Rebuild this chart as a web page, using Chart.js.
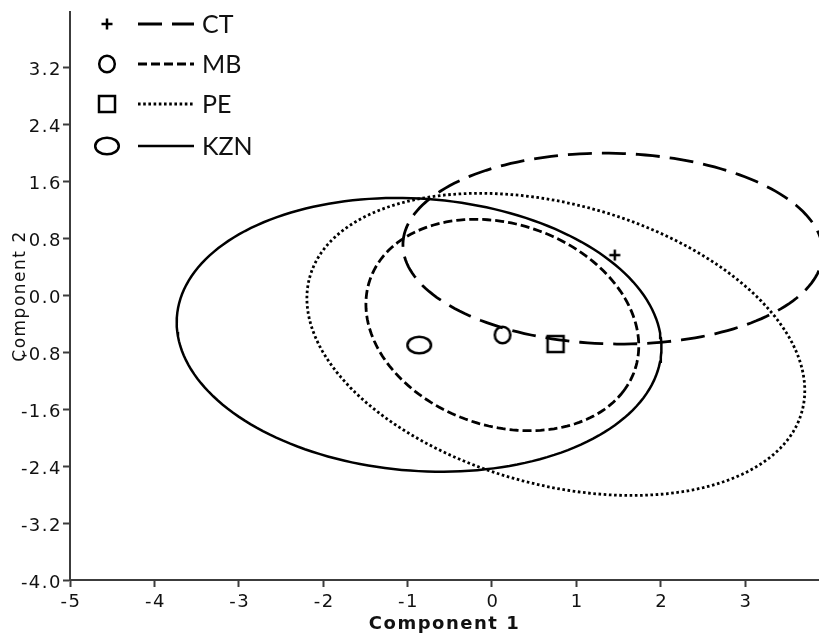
<!DOCTYPE html>
<html>
<head>
<meta charset="utf-8">
<script src="https://cdn.jsdelivr.net/npm/chart.js@4.4.1/dist/chart.umd.min.js"></script>
<style>
  html, body { margin: 0; padding: 0; background: #fff; }
  canvas { display: block; }
</style>
</head>
<body>
<canvas id="pcaChart" width="819" height="635"></canvas>
<script>
// groups and their centroids (marker positions)
const groups = ['CT', 'MB', 'PE', 'KZN'];
const centroidX = [1.457, 0.126, 0.755, -0.861];
const centroidY = [0.56, -0.561, -0.688, -0.702];

// confidence ellipses: centre, semi axes, rotation in degrees
const ellipseCX = [1.434, 0.124, 0.758, -0.863];
const ellipseCY = [0.651, -0.421, -0.693, -0.559];
const ellipseA = [2.489, 1.710, 3.073, 2.882];
const ellipseB = [1.338, 1.375, 1.939, 1.907];
const ellipseAngle = [-1.7, -33.2, -21.1, -6.2];

const xTicks = [-5, -4, -3, -2, -1, 0, 1, 2, 3];
const yTicks = [-4.0, -3.2, -2.4, -1.6, -0.8, 0.0, 0.8, 1.6, 2.4, 3.2];

// line styles per group
const lineDash = [[24, 10], [9, 4], [2.6, 2.6], []];
const lineWidth = [2.8, 2.8, 2.8, 2.5];

const axisColor = '#3c3c3c';
const textColor = '#111';
const fontFamily = '"DejaVu Sans", Verdana, sans-serif';
const tickFont = { family: fontFamily, size: 18 };

function ellipsePoints(i) {
    const th = ellipseAngle[i] * Math.PI / 180;
    const pts = [];
    for (let k = 0; k <= 360; k += 2) {
        const t = k * Math.PI / 180;
        const ex = ellipseA[i] * Math.cos(t);
        const ey = ellipseB[i] * Math.sin(t);
        pts.push({
            x: ellipseCX[i] + ex * Math.cos(th) - ey * Math.sin(th),
            y: ellipseCY[i] + ex * Math.sin(th) + ey * Math.cos(th)
        });
    }
    return pts;
}

// hollow marker glyphs, used for both the plot and the legend
function makeMarker(kind) {
    const c = document.createElement('canvas');
    c.width = 32;
    c.height = 24;
    const g = c.getContext('2d');
    const cx = 16, cy = 12;
    g.strokeStyle = '#000';
    g.lineWidth = 2.5;
    g.beginPath();
    if (kind === 'cross') {
        g.moveTo(cx - 5.5, cy); g.lineTo(cx + 5.5, cy);
        g.moveTo(cx, cy - 5.5); g.lineTo(cx, cy + 5.5);
    } else if (kind === 'circle') {
        g.ellipse(cx, cy, 7.8, 8.2, 0, 0, Math.PI * 2);
    } else if (kind === 'square') {
        g.rect(cx - 8, cy - 8, 16, 16);
    } else {
        g.ellipse(cx, cy, 11.8, 8.3, 0, 0, Math.PI * 2);
    }
    g.stroke();
    return c;
}
const markers = [makeMarker('cross'), makeMarker('circle'), makeMarker('square'), makeMarker('oval')];

const datasets = [];
groups.forEach((g, i) => {
    datasets.push({
        label: g + ' ellipse',
        data: ellipsePoints(i),
        showLine: true,
        borderColor: '#000',
        borderWidth: lineWidth[i],
        borderDash: lineDash[i],
        borderCapStyle: 'butt',
        pointRadius: 0,
        fill: false,
        tension: 0
    });
});
groups.forEach((g, i) => {
    datasets.push({
        label: g,
        data: [{ x: centroidX[i], y: centroidY[i] }],
        pointStyle: markers[i],
        pointRadius: 10,
        showLine: false
    });
});

// slightly spaced axis text like the original
const spacingPlugin = {
    id: 'spacing',
    beforeDraw(chart) {
        chart.ctx.letterSpacing = '1.5px';
    }
};

const legendRowY = [24, 64, 104, 146];
const legendPlugin = {
    id: 'groupLegend',
    afterDraw(chart) {
        const ctx = chart.ctx;
        ctx.save();
        ctx.letterSpacing = '0px';
        ctx.font = '25px Lato, "Open Sans", sans-serif';
        ctx.fillStyle = '#111';
        ctx.textBaseline = 'middle';
        ctx.textAlign = 'left';
        groups.forEach((g, i) => {
            const y = legendRowY[i];
            const m = markers[i];
            ctx.drawImage(m, 107 - m.width / 2, y - m.height / 2);
            ctx.beginPath();
            ctx.setLineDash(lineDash[i]);
            ctx.lineWidth = i === 3 ? 2.5 : 3;
            ctx.strokeStyle = '#000';
            ctx.moveTo(138, y);
            ctx.lineTo(194, y);
            ctx.stroke();
            ctx.setLineDash([]);
            ctx.fillText(g, 202, y + 1);
        });
        ctx.restore();
    }
};

const ctx = document.getElementById('pcaChart').getContext('2d');
new Chart(ctx, {
    type: 'scatter',
    data: { datasets: datasets },
    options: {
        responsive: false,
        animation: false,
        devicePixelRatio: 1,
        layout: { autoPadding: false, padding: { top: 12, right: 0, bottom: 0, left: 0 } },
        plugins: {
            legend: { display: false },
            tooltip: { enabled: false }
        },
        scales: {
            x: {
                type: 'linear',
                min: -5,
                max: 3.877,
                afterBuildTicks: (scale) => { scale.ticks = xTicks.map(v => ({ value: v })); },
                afterFit: (scale) => { scale.height = 55; },
                grid: { display: true, drawOnChartArea: false, tickLength: 7, color: axisColor, tickWidth: 2 },
                border: { display: true, color: axisColor, width: 2 },
                ticks: {
                    font: tickFont,
                    color: textColor,
                    padding: 5,
                    labelOffset: 1,
                    maxRotation: 0,
                    autoSkip: false,
                    callback: (v) => String(v)
                },
                title: {
                    display: true,
                    text: 'Component 1',
                    font: { family: fontFamily, size: 18, weight: 'bold' },
                    color: textColor,
                    padding: { top: 0, bottom: 0 }
                }
            },
            y: {
                type: 'linear',
                min: -4,
                max: 3.972,
                afterBuildTicks: (scale) => { scale.ticks = yTicks.map(v => ({ value: v })); },
                afterFit: (scale) => { scale.width = 70; },
                grid: { display: true, drawOnChartArea: false, tickLength: 7, color: axisColor, tickWidth: 2 },
                border: { display: true, color: axisColor, width: 2 },
                ticks: {
                    font: tickFont,
                    color: textColor,
                    padding: 1,
                    labelOffset: 3,
                    autoSkip: false,
                    callback: (v) => Number(v).toFixed(1)
                },
                title: {
                    display: true,
                    text: 'Component 2',
                    font: { family: fontFamily, size: 17 },
                    color: textColor,
                    padding: { top: 10, bottom: 0 }
                }
            }
        }
    },
    plugins: [spacingPlugin, legendPlugin]
});
</script>
</body>
</html>
